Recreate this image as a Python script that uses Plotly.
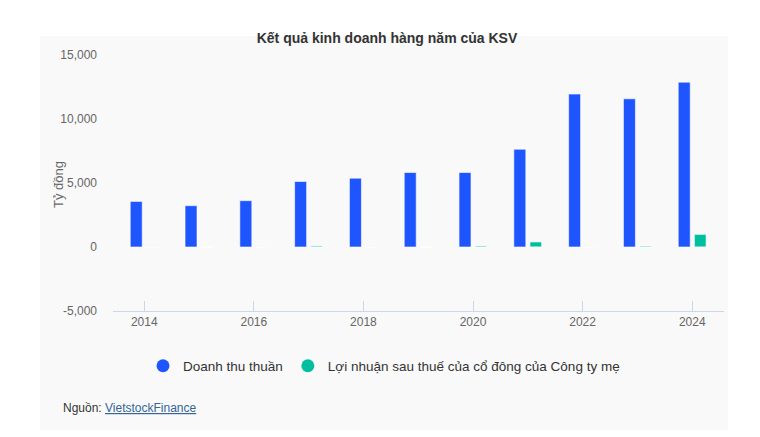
import plotly.graph_objects as go

years = [2014, 2015, 2016, 2017, 2018, 2019, 2020, 2021, 2022, 2023, 2024]
doanh_thu = [3560, 3230, 3620, 5120, 5380, 5820, 5820, 7640, 11950, 11580, 12880]
loi_nhuan = [15, 0, 20, 90, 15, 0, 90, 405, 15, 80, 1000]

name_dt = "Doanh thu thuần"
name_ln = "Lợi nhuận sau thuế của cổ đông của Công ty mẹ"
title_text = "Kết quả kinh doanh hàng năm của KSV"
y_title = "Tỷ đồng"
y_ticks = [-5000, 0, 5000, 10000, 15000]
y_ticktext = ["-5,000", "0", "5,000", "10,000", "15,000"]
x_ticks = [2014, 2016, 2018, 2020, 2022, 2024]

c_blue = "#1f55ff"
c_teal = "#00bf9f"
font = "Liberation Sans, Arial, sans-serif"

# page body has an 8px margin: work in screen pixels and shift by OFF
OFF = 8
W, H = 760 - OFF, 437 - OFF
L, R, T, B = 113 - OFF, 760 - 724, 55 - OFF, 437 - 311
pw = W - L - R
ph = H - T - B


def px_x(px):
    return (px - OFF - L) / pw


def px_y(py):
    return (H - B - (py - OFF)) / ph


fig = go.Figure()
fig.add_trace(go.Bar(x=years, y=doanh_thu, name=name_dt,
                     marker=dict(color=c_blue, line=dict(color="rgba(255,255,255,0.6)", width=1)),
                     showlegend=False))
fig.add_trace(go.Bar(x=years, y=loi_nhuan, name=name_ln,
                     marker=dict(color=c_teal, line=dict(color="rgba(255,255,255,0.9)", width=1)),
                     showlegend=False))
# legend entries with circle symbols
fig.add_trace(go.Scatter(x=[None], y=[None], mode="markers", name=name_dt,
                         marker=dict(color=c_blue, size=13, symbol="circle")))
fig.add_trace(go.Scatter(x=[None], y=[None], mode="markers", name=name_ln,
                         marker=dict(color=c_teal, size=13, symbol="circle")))

fig.update_layout(
    width=W, height=H,
    margin=dict(l=L, r=R, t=T, b=B),
    paper_bgcolor="white",
    plot_bgcolor="rgba(0,0,0,0)",
    barmode="group",
    bargap=0.416,
    bargroupgap=0.25,
    font=dict(family=font, color="#333333", size=12),
    title=dict(text="<b>" + title_text + "</b>", x=px_x(387), xref="paper", xanchor="center",
               y=1 - (38 - OFF) / H, yanchor="middle", font=dict(size=14, color="#333333", family=font)),
    xaxis=dict(range=[2013.43, 2024.58], tickvals=x_ticks, ticktext=[str(v) for v in x_ticks],
               showgrid=False, zeroline=False, showline=True, linecolor="#ccd6eb", linewidth=1,
               ticks="inside", ticklen=10, tickcolor="#ccd6eb", tickwidth=1,
               tickfont=dict(size=12, color="#666666"), fixedrange=True),
    yaxis=dict(range=[-5000, 15000], tickvals=y_ticks, ticktext=y_ticktext, showgrid=False,
               zeroline=False, showline=False, ticks="", ticklabelstandoff=15,
               tickfont=dict(size=12, color="#666666")),
    legend=dict(orientation="h", x=px_x(384), xanchor="center",
                y=px_y(366), yanchor="middle", font=dict(size=13.5, color="#333333"),
                bgcolor="rgba(0,0,0,0)", itemwidth=30, tracegroupgap=0),
    shapes=[dict(type="rect", xref="paper", yref="paper", x0=px_x(40), x1=px_x(728),
                 y0=px_y(430), y1=px_y(36), fillcolor="#f9f9f9", line=dict(width=0), layer="below")],
    annotations=[
        dict(text="Nguồn: <a href='https://finance.vietstock.vn'><span style='color:#336699'><u>VietstockFinance</u></span></a>",
             xref="paper", yref="paper", x=px_x(61), y=px_y(408), xanchor="left", yanchor="middle",
             showarrow=False, font=dict(size=12, color="#333333", family=font)),
        dict(text=y_title, textangle=-90, xref="paper", yref="paper", x=px_x(58), y=px_y(185),
             xanchor="center", yanchor="middle", showarrow=False,
             font=dict(size=13, color="#666666", family=font)),
    ],
)

fig.write_html("out.html")
